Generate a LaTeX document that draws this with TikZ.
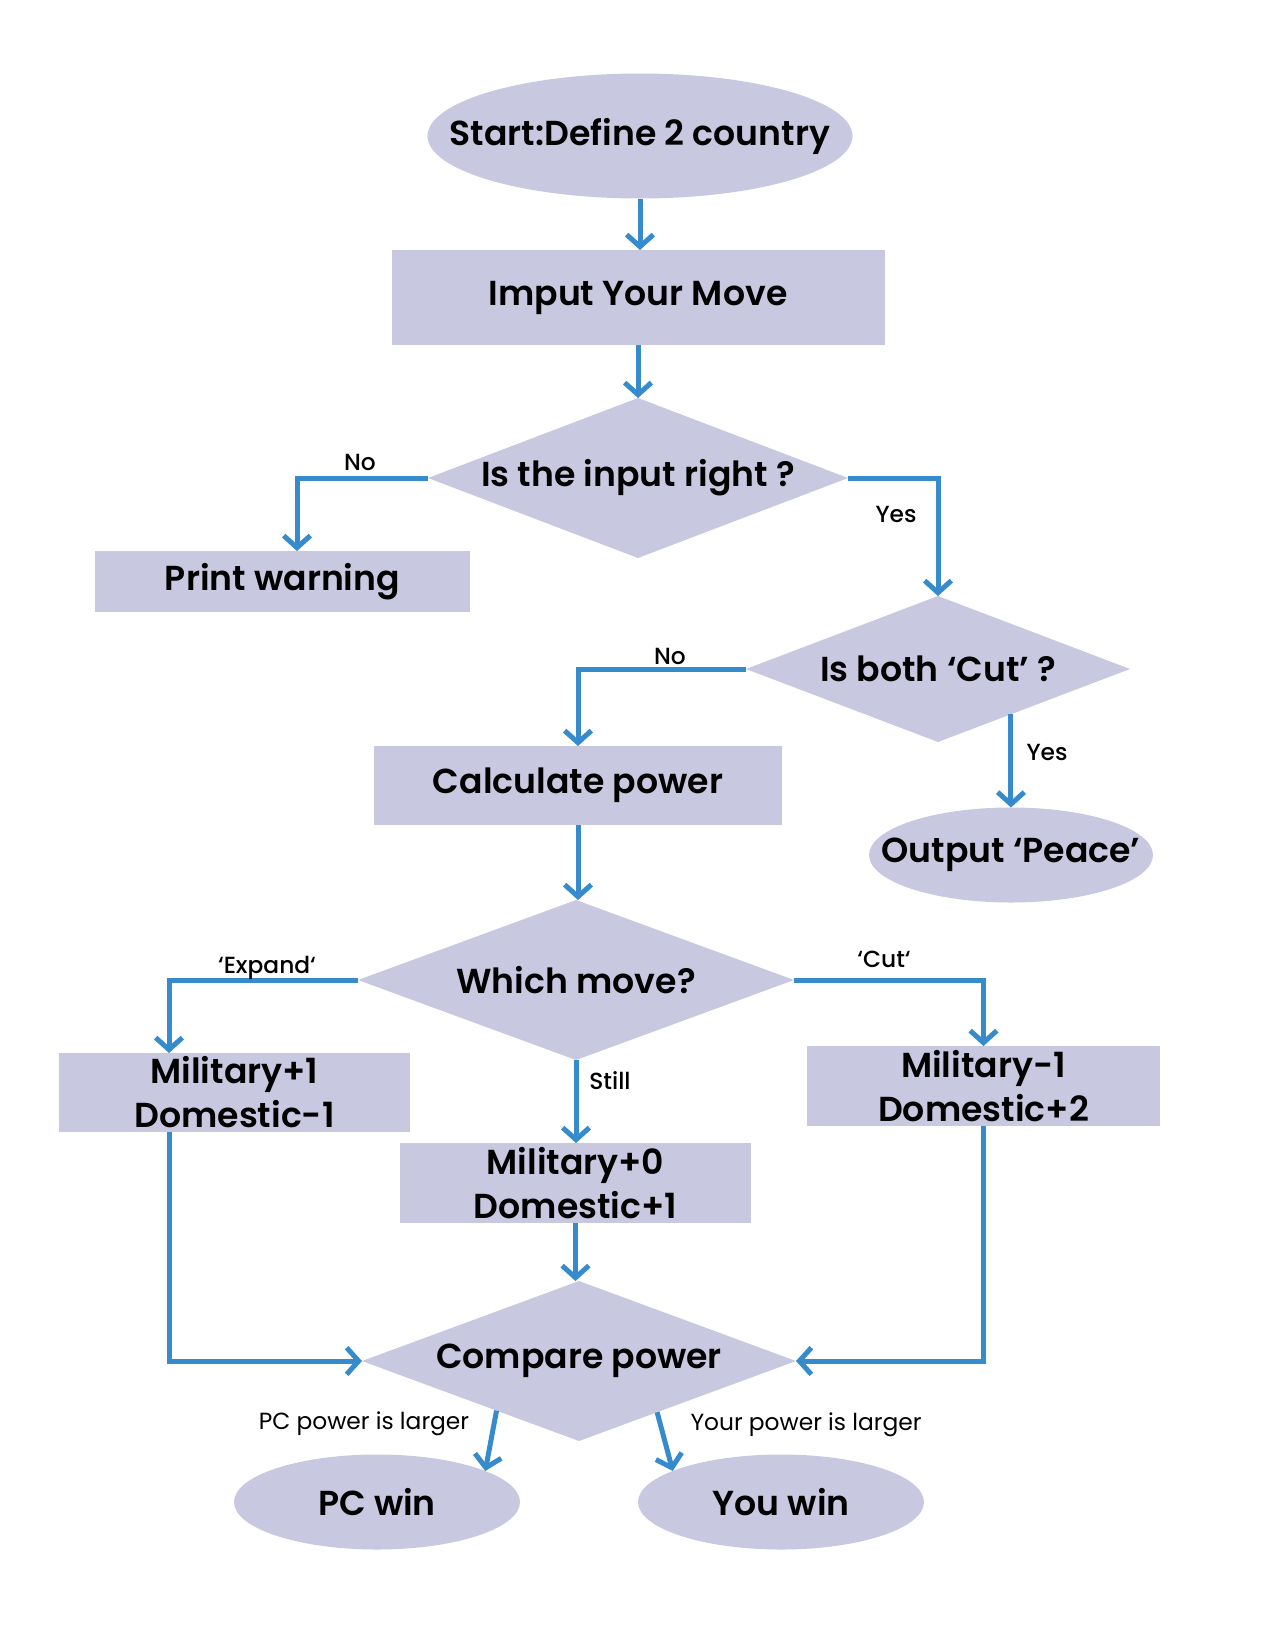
\documentclass[tikz,border=0pt]{standalone}
\usepackage{fontspec}
\setmainfont{Poppins}[BoldFont={Poppins SemiBold}]
\newfontfamily\medfont{Poppins Medium}
\usetikzlibrary{shapes.geometric,arrows.meta,calc}
\definecolor{lav}{RGB}{201,200,225}
\definecolor{flowblue}{RGB}{54,139,204}
\begin{document}
\begin{tikzpicture}[x=0.75pt,y=-0.75pt,
  every node/.style={inner sep=0pt, outer sep=0pt},
  mainfont/.style={font=\fontsize{26}{33}\selectfont\bfseries},
  boxnode/.style={rectangle, fill=lav, mainfont, align=center},
  termnode/.style={ellipse, fill=lav, mainfont},
  dianode/.style={diamond, fill=lav, mainfont},
  conn/.style={draw=flowblue, line width=3.75pt, line cap=butt, line join=miter, -{Straight Barb[length=9pt,width=20pt]}},
  lbl/.style={font=\fontsize{17.5}{20}\selectfont\medfont},
  lblthin/.style={font=\fontsize{17.5}{20}\selectfont}
]
\useasboundingbox (0,0) rectangle (1275,1650);

\node[termnode, minimum width=318.75pt, minimum height=93.75pt] (start) at (640,136) {\makebox[0pt]{Start:Define 2 country}};
\node[boxnode, minimum width=369.75pt, minimum height=71.25pt] (imput) at (638,297.5) {Imput Your Move};
\node[dianode, minimum width=315pt, minimum height=120pt, aspect=2.6] (d1) at (638,478) {\makebox[0pt]{Is the input right ?}};
\node[boxnode, minimum width=281.25pt, minimum height=45.75pt] (warn) at (282.5,581.5) {Print warning};
\node[dianode, minimum width=288pt, minimum height=109.5pt, aspect=2.6] (d2) at (938,669) {\makebox[0pt]{Is both ‘Cut’ ?}};
\node[boxnode, minimum width=306pt, minimum height=59.25pt] (calc) at (578,785.5) {Calculate power};
\node[termnode, minimum width=213pt, minimum height=71.25pt] (peace) at (1011,855) {\makebox[0pt]{Output ‘Peace’}};
\node[dianode, minimum width=327pt, minimum height=120pt, aspect=2.7] (wm) at (576,980) {\makebox[0pt]{Which move?}};
\node[boxnode, minimum width=263.25pt, minimum height=59.25pt] (m1) at (234.5,1092.5) {Military+1\\Domestic-1};
\node[boxnode, minimum width=264.75pt, minimum height=60pt] (m3) at (983.5,1086) {Military-1\\Domestic+2};
\node[boxnode, minimum width=263.25pt, minimum height=60pt] (m2) at (575.5,1183) {Military+0\\Domestic+1};
\node[dianode, minimum width=325.5pt, minimum height=120pt, aspect=2.7] (cmp) at (579,1361) {\makebox[0pt]{Compare power}};
\node[termnode, minimum width=214.5pt, minimum height=71.25pt] (pcwin) at (377,1502) {\makebox[0pt]{PC win}};
\node[termnode, minimum width=214.5pt, minimum height=71.25pt] (youwin) at (781,1502) {\makebox[0pt]{You win}};

\draw[conn] (start.south) -- (start.south |- imput.north);
\draw[conn] (imput.south) -- (imput.south |- d1.north);
\draw[conn] (d1.west) -| ($(warn.north)+(14.5,0)$);
\draw[conn] (d1.east) -| (d2.north);
\draw[conn] (d2.west) -| (calc.north);
\coordinate (d2y) at ($(d2.south)!0.38!(d2.east)$);
\draw[conn] (d2y) -- (d2y |- peace.north);
\draw[conn] (calc.south) -- (calc.south |- wm.north);
\draw[conn] (wm.west) -| ($(m1.north)+(-65.5,0)$);
\draw[conn] (wm.east) -| (m3.north);
\draw[conn] (wm.south) -- (wm.south |- m2.north);
\draw[conn] (m2.south) -- (m2.south |- cmp.north);
\draw[conn] ($(m1.south)+(-65.5,0)$) |- (cmp.west);
\draw[conn] (m3.south) |- (cmp.east);
\draw[conn] ($(cmp.west)!0.62!(cmp.south)$) -- (pcwin.16);
\draw[conn] ($(cmp.south)!0.36!(cmp.east)$) -- (youwin.164);

\node[lbl] (lno1) at (360,462) {No};
\node[lbl] (lyes1) at (896,514) {Yes};
\node[lbl] (lno2) at (670,656) {No};
\node[lbl] (lyes2) at (1047,752) {Yes};
\node[lbl] (lexp) at (267,968) {‘Expand‘};
\node[lbl] (lcut) at (884,959) {‘Cut‘};
\node[lbl] (lstill) at (610,1081) {Still};
\node[lblthin] (lpc) at (364,1424) {PC power is larger};
\node[lblthin] (lyou) at (806,1425) {Your power is larger};
\end{tikzpicture}
\end{document}
